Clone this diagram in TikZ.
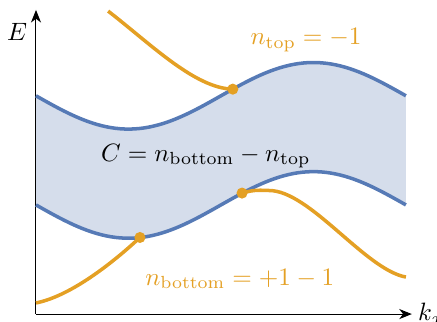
\documentclass[tikz,border=0pt]{standalone}
\usepackage{amsmath,amssymb}
\usepackage{tikz}
\usetikzlibrary{positioning, arrows.meta, calc}

\begin{document}
\begin{tikzpicture}[x=0.518cm, y=0.518cm, >={Stealth[length=5pt, width=4pt, inset=1.5pt]}]
    \definecolor{bandblue}{RGB}{86, 122, 182}  % Blue
    \definecolor{bandfill}{RGB}{213, 221, 235} % Light blue
    \definecolor{orng}{RGB}{228, 160, 36}      % Orange

    \useasboundingbox (-0.973, -0.19) rectangle (10.84, 8.49);

    % Band between the two curves
    \fill[bandfill] plot[domain=0:10, samples=80] (\x, {5.9+0.9*cos(36*(\x-7.5))})
        -- plot[domain=10:0, samples=80] (\x, {2.95+0.9*cos(36*(\x-7.5))}) -- cycle;

    % Axes
    \draw[->, thin] (0, 0) -- (10.16, 0) node[right=-1pt] (kx) {$k_x$};
    \draw[->, thin] (0, 0) -- (0, 8.22);
    \node (E) at (-0.51, 7.62) {$E$};

    % Band edges
    \draw[bandblue, line width=1.4pt] plot[domain=0:10, samples=80] (\x, {5.9+0.9*cos(36*(\x-7.5))});
    \draw[bandblue, line width=1.4pt] plot[domain=0:10, samples=80] (\x, {2.95+0.9*cos(36*(\x-7.5))});

    % Touching points
    \coordinate (dtop) at (5.32, 6.08);
    \coordinate (dleft) at (2.81, 2.07);
    \coordinate (dright) at (5.57, 3.27);

    % Orange branches
    \draw[orng, line width=1.4pt] (1.95, 8.19) .. controls (3.1, 7.3) and (4.3, 6.1) .. (dtop);
    \draw[orng, line width=1.4pt] (0, 0.3) .. controls (1, 0.5) and (2.2, 1.5) .. (dleft);
    \draw[orng, line width=1.4pt] (dright) .. controls (5.95, 3.38) and (6.1, 3.34) .. (6.3, 3.34)
        .. controls (7.4, 3.34) and (8.9, 1.2) .. (10, 1.0);

    \fill[orng] (dtop) circle (0.15);
    \fill[orng] (dleft) circle (0.15);
    \fill[orng] (dright) circle (0.15);

    % Labels
    \node[orng] (ntop) at (7.30, 7.41) {$n_{\text{top}} = -1$};
    \node (chern) at (4.59, 4.27) {$C = n_{\text{bottom}} - n_{\text{top}}$};
    \node[orng] (nbot) at (5.51, 0.95) {$n_{\text{bottom}} = +1 - 1$};
\end{tikzpicture}
\end{document}
